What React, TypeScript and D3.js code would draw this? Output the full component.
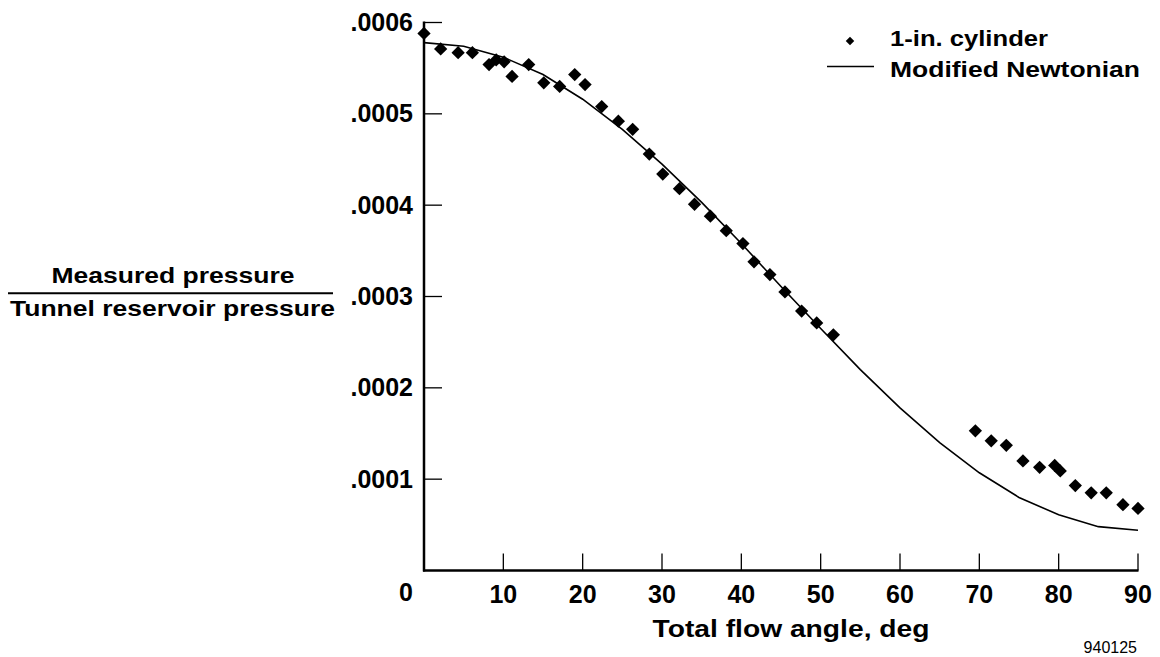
import * as d3 from 'd3';

// angle (deg) and pressure ratio
const cylAngle = [0, 2.1, 4.3, 6.1, 8.2, 9.1, 10.1, 11.1, 13.2, 15.1, 17.1, 19.0, 20.3, 22.4, 24.5, 26.3, 28.4, 30.1, 32.2, 34.1, 36.1, 38.1, 40.2, 41.6, 43.6, 45.5, 47.6, 49.5, 51.6, 69.5, 71.5, 73.4, 75.5, 77.6, 79.5, 80.2, 82.1, 84.1, 86.0, 88.1, 90.0];
const cylP = [5.88, 5.71, 5.67, 5.67, 5.54, 5.59, 5.57, 5.41, 5.54, 5.34, 5.30, 5.43, 5.32, 5.08, 4.92, 4.83, 4.56, 4.34, 4.18, 4.01, 3.88, 3.72, 3.58, 3.38, 3.24, 3.05, 2.84, 2.71, 2.58, 1.53, 1.42, 1.37, 1.20, 1.13, 1.15, 1.09, 0.93, 0.85, 0.85, 0.72, 0.68].map(v => v * 1e-4);

const newtAngle = [0, 5, 10, 15, 20, 25, 30, 35, 40, 45, 50, 55, 60, 65, 70, 75, 80, 85, 90];
const newtP = [5.78, 5.74, 5.62, 5.43, 5.16, 4.83, 4.45, 4.03, 3.58, 3.11, 2.65, 2.20, 1.78, 1.40, 1.07, 0.80, 0.61, 0.48, 0.44].map(v => v * 1e-4);

const xTicks = [10, 20, 30, 40, 50, 60, 70, 80, 90];
const yTicks = [0.0001, 0.0002, 0.0003, 0.0004, 0.0005, 0.0006];
const yTickLabels = ['.0001', '.0002', '.0003', '.0004', '.0005', '.0006'];

const font = '"Liberation Sans", Arial, Helvetica, sans-serif';

export default function App() {
  const x = d3.scaleLinear().domain([0, 90]).range([424, 1138]);
  const y = d3.scaleLinear().domain([0, 0.0006]).range([570.5, 22.5]);

  const line = d3.line<number>()
    .x((d, i) => x(newtAngle[i]))
    .y(d => y(d));

  const diamond = d3.symbol().type(d3.symbolSquare).size(88)();
  const smallDiamond = d3.symbol().type(d3.symbolSquare).size(36)();

  return (
    <svg width={1160} height={657} style={{ position: 'absolute', left: 0, top: 0, background: '#fff' }}
      fontFamily={font} fontWeight="bold">
      {/* axes */}
      <line x1={x(0)} x2={x(0)} y1={y(0) + 1} y2={y(0.0006) - 1} stroke="#000" strokeWidth={2.5} />
      <line x1={x(0) - 1} x2={x(90) + 0.5} y1={y(0)} y2={y(0)} stroke="#000" strokeWidth={2.5} />
      {yTicks.map((t, i) => (
        <g key={'y' + i}>
          <line x1={x(0)} x2={x(0) + 18} y1={y(t)} y2={y(t)} stroke="#000" strokeWidth={1.3} />
          <text x={413} y={y(t) + 8.5} textAnchor="end" fontSize={25}>{yTickLabels[i]}</text>
        </g>
      ))}
      {xTicks.map(t => (
        <g key={'x' + t}>
          <line x1={x(t)} x2={x(t)} y1={y(0)} y2={y(0) - 17} stroke="#000" strokeWidth={1.3} />
          <text x={x(t)} y={603} textAnchor="middle" fontSize={25}>{t}</text>
        </g>
      ))}
      <text x={406} y={601} textAnchor="middle" fontSize={25}>0</text>

      {/* model curve */}
      <path d={line(newtP) || ''} fill="none" stroke="#000" strokeWidth={1.6} />

      {/* measured points */}
      {cylP.map((v, i) => (
        <path key={'p' + i} d={diamond || ''} transform={`translate(${x(cylAngle[i])},${y(v)}) rotate(45)`} fill="#000" />
      ))}

      {/* y title as fraction */}
      <text x={173} y={283} textAnchor="middle" fontSize={22} textLength={243} lengthAdjust="spacingAndGlyphs">Measured pressure</text>
      <line x1={8} x2={333} y1={293.3} y2={293.3} stroke="#000" strokeWidth={2} />
      <text x={172.5} y={316} textAnchor="middle" fontSize={22} textLength={325} lengthAdjust="spacingAndGlyphs">Tunnel reservoir pressure</text>

      {/* x title */}
      <text x={791} y={637} textAnchor="middle" fontSize={23} textLength={277} lengthAdjust="spacingAndGlyphs">Total flow angle, deg</text>

      {/* legend */}
      <path d={smallDiamond || ''} transform="translate(850,41) rotate(45)" fill="#000" />
      <text x={890} y={46} fontSize={22} textLength={158} lengthAdjust="spacingAndGlyphs">1-in. cylinder</text>
      <line x1={827} x2={874} y1={66.5} y2={66.5} stroke="#000" strokeWidth={1.6} />
      <text x={890} y={77} fontSize={22} textLength={250} lengthAdjust="spacingAndGlyphs">Modified Newtonian</text>

      <text x={1137} y={653} textAnchor="end" fontSize={16} fontWeight="normal">940125</text>
    </svg>
  );
}
